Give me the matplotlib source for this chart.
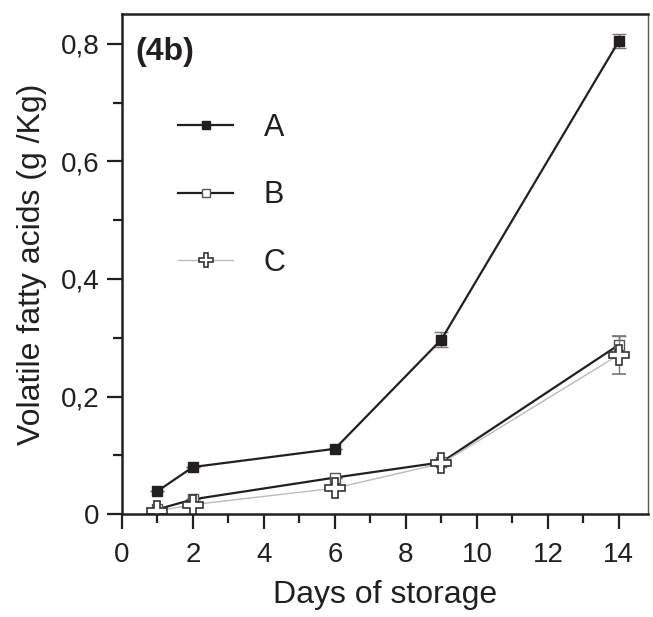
import matplotlib
matplotlib.use("Agg")
import matplotlib.pyplot as plt
from matplotlib.lines import Line2D
from matplotlib.ticker import MultipleLocator, FuncFormatter

plt.rcParams['font.family'] = ['Liberation Sans', 'DejaVu Sans']

days = [1, 2, 6, 9, 14]
vfa_a = [0.039, 0.080, 0.111, 0.297, 0.805]
err_a = [0.0, 0.0, 0.0, 0.012, 0.012]
vfa_b = [0.008, 0.025, 0.062, 0.088, 0.288]
err_b = [0.0, 0.0, 0.0, 0.0, 0.015]
vfa_c = [0.005, 0.016, 0.044, 0.086, 0.271]
err_c = [0.0, 0.0, 0.0, 0.0, 0.032]
labels = ['A', 'B', 'C']

dark = '#231f20'
fig = plt.figure(figsize=(6.53, 6.17), dpi=100)
ax = fig.add_axes([0.1868, 0.1669, 0.8055, 0.8104])

sty_a = dict(color=dark, lw=1.6, marker='s', mfc=dark, mec=dark)
sty_b = dict(color=dark, lw=1.6, marker='s', mfc='white', mec='#555555', mew=1.0)
sty_c = dict(color='#bbbbbb', lw=1.0, marker='P', mfc='white', mec='#333333', mew=1.2)

ax.errorbar(days, vfa_c, yerr=err_c, ms=15, ecolor='#777777',
            elinewidth=1.0, capsize=5, zorder=2, **sty_c)
ax.errorbar(days, vfa_b, yerr=err_b, ms=7.5, ecolor='#777777',
            elinewidth=1.0, capsize=5, zorder=1.5, **sty_b)
ax.errorbar(days, vfa_a, yerr=err_a, ms=7.5, ecolor='#777777',
            elinewidth=1.0, capsize=5, zorder=3, **sty_a)

ax.set_xlim(0, 14.82)
ax.set_ylim(0, 0.851)
ax.xaxis.set_major_locator(MultipleLocator(2))
ax.xaxis.set_minor_locator(MultipleLocator(1))
ax.yaxis.set_major_locator(MultipleLocator(0.2))
ax.yaxis.set_minor_locator(MultipleLocator(0.1))
ax.yaxis.set_major_formatter(FuncFormatter(
    lambda v, p: '0' if abs(v) < 1e-9 else f'{v:.1f}'.replace('.', ',')))
ax.tick_params(which='major', length=11, width=1.6, labelsize=20,
               colors=dark, pad=5)
ax.tick_params(axis='x', which='major', pad=9)
ax.tick_params(which='minor', length=6.5, width=1.6, colors=dark)

for s in ['left', 'bottom', 'top']:
    ax.spines[s].set_linewidth(1.8)
    ax.spines[s].set_color(dark)
ax.spines['right'].set_linewidth(1.0)
ax.spines['right'].set_color('#555555')

ax.set_xlabel('Days of storage', fontsize=23, color=dark, labelpad=9)
ax.set_ylabel('Volatile fatty acids (g /Kg)', fontsize=23, color=dark,
              labelpad=10)
ax.text(0.025, 0.925, '(4b)', transform=ax.transAxes, fontsize=23,
        fontweight='bold', color=dark, va='center')

handles = [Line2D([], [], ms=6, **sty_a),
           Line2D([], [], ms=6, **sty_b),
           Line2D([], [], ms=10, **sty_c)]
leg = ax.legend(handles, labels, loc='upper left',
                bbox_to_anchor=(0.055, 0.857), frameon=False, fontsize=22,
                handlelength=1.8, handletextpad=1.0, labelspacing=1.22)
for t in leg.get_texts():
    t.set_color(dark)

fig.savefig('out.png', dpi=100)
